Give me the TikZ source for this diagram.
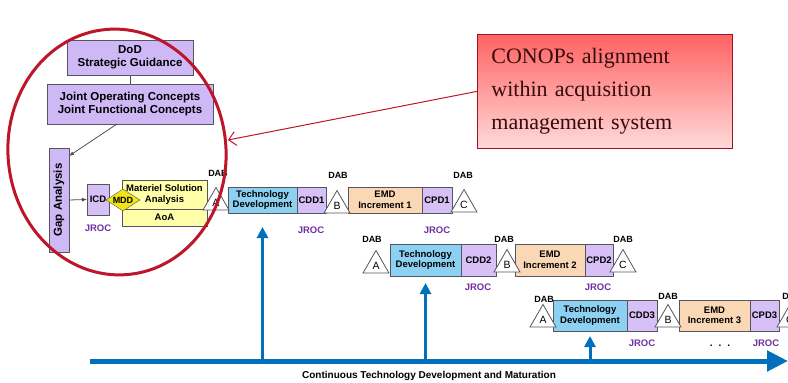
\documentclass[tikz,border=0pt]{standalone}
\usepackage{fontspec}
\setmainfont{Liberation Sans}
\newfontfamily\calloutfont{Liberation Serif}
\usepackage{tikz}
\usetikzlibrary{arrows.meta}
\usetikzlibrary{positioning,calc}
\usetikzlibrary{shapes.geometric}
\definecolor{boxline}{RGB}{85,85,95}
\definecolor{conceptfill}{RGB}{206,184,246}
\definecolor{docfill}{RGB}{214,192,246}
\definecolor{tdfill}{RGB}{140,208,242}
\definecolor{emdfill}{RGB}{250,216,182}
\definecolor{msafill}{RGB}{255,255,170}
\definecolor{mddfill}{RGB}{240,228,20}
\definecolor{jroctext}{RGB}{112,48,160}
\definecolor{flowblue}{RGB}{0,112,186}
\definecolor{ringred}{RGB}{188,22,40}
\definecolor{callouttop}{RGB}{255,98,98}
\definecolor{calloutbottom}{RGB}{255,218,218}
\definecolor{callouttext}{RGB}{55,12,12}
\tikzset{
    stagebox/.style={
        draw=boxline,
        line width=0.8pt,
        inner sep=1pt,
        outer sep=0pt,
        anchor=north west,
        align=center,
        font=\bfseries\fontsize{9.5}{10.5}\selectfont
    },
    conceptbox/.style={stagebox, fill=conceptfill, font=\bfseries\fontsize{11.5}{13.5}\selectfont},
    docbox/.style={stagebox, fill=docfill},
    techbox/.style={stagebox, fill=tdfill},
    emdbox/.style={stagebox, fill=emdfill},
    msabox/.style={stagebox, fill=msafill},
    gate/.style={
        draw=boxline,
        fill=white,
        line width=0.8pt,
        regular polygon,
        regular polygon sides=3,
        minimum size=30pt,
        inner sep=0pt,
        font=\fontsize{10.5}{10.5}\selectfont
    },
    dablabel/.style={inner sep=0pt, font=\bfseries\fontsize{9}{9}\selectfont},
    jroclabel/.style={inner sep=0pt, text=jroctext, font=\bfseries\fontsize{9.5}{9.5}\selectfont},
    link/.style={draw=black!70, line width=0.8pt},
    feed/.style={draw=flowblue, line width=3pt, -{Triangle[length=11pt, width=11pt]}},
    timeline/.style={draw=flowblue, line width=5pt, -{Triangle[length=21pt, width=20pt]}}
}

\begin{document}
\begin{tikzpicture}[x=1pt, y=-1pt]
    \useasboundingbox (0,0) rectangle (788,383);
    \clip (0,0) rectangle (788,383);

    % Guidance and concepts
    \node[conceptbox, minimum width=126pt, minimum height=35pt] (dod) at (67,40) {DoD\\Strategic Guidance};
    \node[conceptbox, minimum width=166pt, minimum height=40pt] (joc) at (47,84) {Joint Operating Concepts\\Joint Functional Concepts};
    \node[conceptbox, minimum width=20pt, minimum height=104pt, inner sep=0pt] (gap) at (49,148) {\rotatebox{90}{Gap Analysis}};
    \draw[link] (dod) -- (joc);
    \draw[link, -{Latex[length=5pt, width=4pt]}] ($(joc.south)+(-13,0)$) -- ($(gap.north east)+(0,8)$);

    % Materiel solution analysis
    \node[docbox, minimum width=22pt, minimum height=31pt] (icd) at (87,184) {ICD};
    \node[jroclabel] (jroc0) at (98,228) {JROC};
    \node[msabox, minimum width=85pt, minimum height=29pt] (msa) at (122,180) {Materiel Solution\\Analysis};
    \node[msabox, minimum width=85pt, minimum height=17pt] (aoa) at (122,209) {AoA};
    \node[diamond, draw=boxline, fill=mddfill, aspect=2, minimum width=34pt, minimum height=22pt,
          inner sep=0pt, font=\bfseries\fontsize{9}{9}\selectfont] (mdd) at (123,200) {MDD};
    \draw[link, -{Latex[length=5pt, width=4pt]}] (gap.east) -- (icd.west);

    % Increment 1
    \node[techbox, minimum width=69pt, minimum height=26pt] (td1) at (228,187) {Technology\\Development};
    \node[docbox, minimum width=29pt, minimum height=26pt] (cdd1) at (297,187) {CDD1};
    \node[emdbox, minimum width=74pt, minimum height=26pt] (emd1) at (348,187) {EMD\\Increment 1};
    \node[docbox, minimum width=30pt, minimum height=26pt] (cpd1) at (422,187) {CPD1};
    \node[gate] (a1) at (216,202.5) {A};
    \node[gate] (b1) at (337,205.5) {B};
    \node[gate] (c1) at (464,204.5) {C};
    \node[dablabel] (dab1a) at (218,173) {DAB};
    \node[dablabel] (dab1b) at (338,175) {DAB};
    \node[dablabel] (dab1c) at (463,175) {DAB};
    \node[jroclabel] (jroc1a) at (311,230) {JROC};
    \node[jroclabel] (jroc1b) at (437,230) {JROC};

    % Increment 2
    \node[techbox, minimum width=71pt, minimum height=32pt] (td2) at (390,244) {Technology\\Development};
    \node[docbox, minimum width=35pt, minimum height=32pt] (cdd2) at (461,244) {CDD2};
    \node[emdbox, minimum width=70pt, minimum height=32pt] (emd2) at (515,244) {EMD\\Increment 2};
    \node[docbox, minimum width=28pt, minimum height=32pt] (cpd2) at (585,244) {CPD2};
    \node[gate] (a2) at (376,265.5) {A};
    \node[gate] (b2) at (507,264.5) {B};
    \node[gate] (c2) at (623,264.5) {C};
    \node[dablabel] (dab2a) at (372,239) {DAB};
    \node[dablabel] (dab2b) at (504,239) {DAB};
    \node[dablabel] (dab2c) at (623,239) {DAB};
    \node[jroclabel] (jroc2a) at (478,287) {JROC};
    \node[jroclabel] (jroc2b) at (598,287) {JROC};

    % Increment 3
    \node[techbox, minimum width=74pt, minimum height=31pt] (td3) at (553,300) {Technology\\Development};
    \node[docbox, minimum width=30pt, minimum height=31pt] (cdd3) at (627,300) {CDD3};
    \node[emdbox, minimum width=71pt, minimum height=31pt] (emd3) at (679,300) {EMD\\Increment 3};
    \node[docbox, minimum width=29pt, minimum height=31pt] (cpd3) at (750,300) {CPD3};
    \node[gate] (a3) at (543,319.5) {A};
    \node[gate] (b3) at (668,319.5) {B};
    \node[gate] (c3) at (790,319.5) {C};
    \node[dablabel] (dab3a) at (544,299) {DAB};
    \node[dablabel] (dab3b) at (668,296) {DAB};
    \node[dablabel] (dab3c) at (792,296) {DAB};
    \node[jroclabel] (jroc3a) at (642,343) {JROC};
    \node[jroclabel] (jroc3b) at (766,343) {JROC};
    \node[font=\bfseries\fontsize{10}{10}\selectfont] (more) at (720,346) {.\hspace{6pt}.\hspace{6pt}.};

    % Continuous technology development
    \coordinate (axisL) at (90,361);
    \coordinate (axisR) at (788,361);
    \draw[feed] (td1.south |- axisL) -- ([yshift=-14pt]td1.south);
    \draw[feed] (td2.south |- axisL) -- ([yshift=-7pt]td2.south);
    \draw[feed] (td3.south |- axisL) -- ([yshift=-5pt]td3.south);
    \draw[timeline] (axisL) -- (axisR);
    \node[font=\bfseries\fontsize{10}{10}\selectfont] (axislabel) at (429,376) {Continuous Technology Development and Maturation};

    % Callout
    \node[anchor=north west, draw=ringred!85!black, line width=0.8pt, top color=callouttop, bottom color=calloutbottom,
          minimum height=114pt, text width=227pt, inner xsep=14pt, align=left, text=callouttext,
          font=\calloutfont\fontsize{22}{33}\selectfont] (conops) at (477,34)
          {CONOPs alignment\\within acquisition\\management system};
    \coordinate (ringhit) at (228,140);
    \draw[draw=ringred, line width=1pt, -{Straight Barb[length=7pt, width=14pt]}] (conops.west) -- (ringhit);
    \draw[draw=ringred, line width=3pt, rotate around={5:(117,152)}] (117,152) ellipse [x radius=109, y radius=123];
\end{tikzpicture}
\end{document}
